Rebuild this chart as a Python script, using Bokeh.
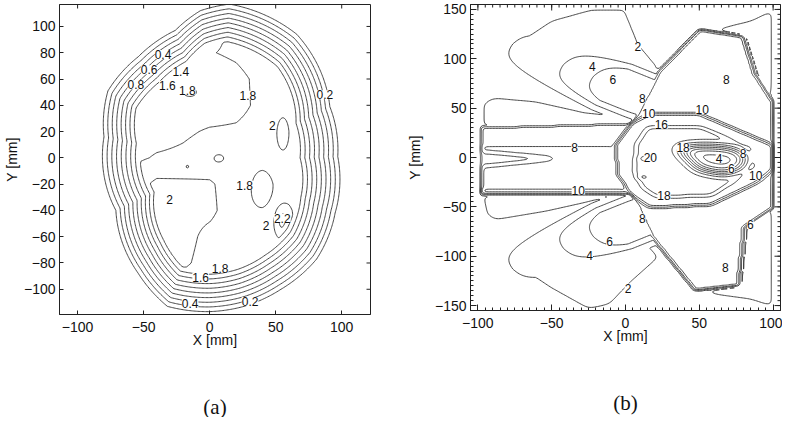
import numpy as np
from bokeh.plotting import figure
from bokeh.models import ColumnDataSource, LabelSet, LinearAxis, FixedTicker, Range1d
from bokeh.layouts import row
from bokeh.core.properties import value
from bokeh.embed import file_html
from bokeh.resources import INLINE

# ======================= Panel (a) data =======================
a_levels = [0.2, 0.4, 0.6, 0.8, 1.0, 1.2, 1.4, 1.6, 1.8, 2.0, 2.2]
# outermost (0.2) iso-line
a_outer_x = [15, 66, 91, 97, 95, 81, 54, 26, 0, -32, -54, -71, -80, -77, -54, -26, -7]
a_outer_y = [117, 94, 39, 1, -42, -77, -100, -113, -117, -113, -88, -40, 16, 51, 77, 97, 112]
a_core = [8.0, -2.0]          # reference point of the ring system
a_ring_gap = 25.0             # distance between the 0.2 and 1.6 lines (mm)
# plateau values inside the rings (20 mm grid)
a_grid_x = [-60, -40, -20, 0, 20, 40, 60, 80]
a_grid_y = [100, 80, 60, 40, 20, 0, -20, -40, -60, -80, -100]
a_grid_z = [
    [1.70, 1.70, 1.70, 1.72, 1.85, 1.90, 1.90, 1.90],
    [1.70, 1.70, 1.70, 1.79, 1.83, 1.90, 1.90, 1.90],
    [1.70, 1.70, 1.70, 1.70, 1.75, 1.85, 1.90, 1.90],
    [1.70, 1.70, 1.70, 1.70, 1.74, 1.85, 1.90, 1.90],
    [1.70, 1.72, 1.77, 1.82, 1.83, 1.88, 1.92, 1.90],
    [1.75, 1.82, 1.84, 1.90, 1.90, 1.90, 1.92, 1.90],
    [1.88, 2.05, 2.04, 2.02, 1.92, 1.90, 1.92, 1.90],
    [1.90, 2.05, 2.05, 2.04, 1.90, 1.92, 1.98, 1.90],
    [1.90, 2.02, 2.06, 1.95, 1.90, 1.92, 1.95, 1.90],
    [1.90, 1.95, 2.03, 1.93, 1.90, 1.90, 1.90, 1.90],
    [1.90, 1.90, 1.90, 1.90, 1.90, 1.90, 1.90, 1.90],
]
# local hot / cold spots
a_spot_x = [-15, 55, 40, 55, 7, -17]
a_spot_y = [50, 19, -25, -48, 0, -6]
a_spot_dz = [0.14, 0.15, -0.17, 0.32, 0.15, 0.10]
a_spot_sx = [6, 4.5, 9, 4, 4, 2.5]
a_spot_sy = [4, 13, 15, 8, 3, 2.5]
# inline labels
a_lab_x = [-35.3, -45.8, -55.9, -21.9, -32.0, -16.9, 29.0, 87.3, 47.4, 26.5, -30.3, 42.7, 55.0, 7.9, -6.8, -14.8, 30.6]
a_lab_y = [78.7, 67.0, 55.7, 66.0, 55.2, 51.4, 47.6, 48.1, 24.8, -20.7, -31.4, -51.1, -46.1, -84.0, -90.9, -110.6, -109.3]
a_lab_t = ["0.4", "0.6", "0.8", "1.4", "1.6", "1.8", "1.8", "0.2", "2", "1.8", "2", "2", "2.2", "1.8", "1.6", "0.4", "0.2"]

# ======================= Panel (b) data =======================
b_levels = [2, 4, 6, 8, 10, 12, 14, 16, 18, 20]
b_body_x = [-98, 101]
b_body_y = [-153, 151]
band_top_x = [-98, 4, -7, -98];            band_top_y = [31, 35, 12, 12];            band_top_d = 7.0
band_mid_x = [-98, -7, -5, 0.9, -98];      band_mid_y = [12, 12, -18, -31, -31];     band_mid_d = 8.7
band_bot_x = [-98, 0.9, 4, -98];           band_bot_y = [-31, -31, -38, -37];        band_bot_d = 10.8
finger_x = [-98, -45, -98];                finger_y = [6, -1, -9];                   finger_d = -3.5
hex_x = [-7, 4, 17, 49, 101, 101, 90, 58, 17, 4, -5]
hex_y = [12, 35, 45, 45, 12, -11, -25, -48, -51, -38, -18];                          hex_d = 15.0
core_x = [8, 15, 25, 50, 85, 88, 80, 58, 22, 12, 6]
core_y = [14, 30, 31, 31, 10, -9, -18, -38, -40, -30, -14];                          core_d = 4.3
hole_x = [35, 55, 72, 82, 80, 68, 50]
hole_y = [10, 12, 10, 3, -10, -17, -12];                                            hole_d = -16.0
tower_top_x = [4, 22, 50, 80, 88, 101, 101, 49, 17]
tower_top_y = [35, 87, 130, 123, 85, 55, 12, 45, 45];                               tower_top_d = 8.5
tower_bot_x = [4, 17, 47, 77, 81, 101, 101, 90, 58, 17]
tower_bot_y = [-38, -80, -135, -130, -71, -50, -11, -25, -48, -51];                 tower_bot_d = 8.5
peak_x = [13, 11];  peak_y = [-1, -20];  peak_d = [1.5, 1.3]
# exit lobes: start point, direction (deg), half width, dose law
lobe_x0 = [25, 25];  lobe_y0 = [54, -52];  lobe_dir = [149, 211];  lobe_hw = [24, 24]
lobe_a = [15.5, 15.5];  lobe_len = [58, 58];  lobe_max = [8, 8]
# low dose (2-4) envelopes
halo_d = 2.8
halo_ul_x = [-78, -50, -21, 0, 10, 24, 5, -40];      halo_ul_y = [112, 140, 152, 152, 115, 90, 70, 85]
halo_lt_x = [-98, -97, -90, -60, -28, 4, 4];          halo_lt_y = [31, 55, 62, 58, 47, 42, 31]
halo_ll_x = [-73, -49, -25, -10, 4, 24, 5, -40];     halo_ll_y = [-112, -135, -155, -150, -128, -101, -70, -85]
halo_lb_x = [-98, -95, -89, -50, -21, 4, 4];          halo_lb_y = [-37, -58, -65, -55, -45, -42, -37]
halo_tr_x = [50, 60, 85, 101, 101, 88, 80];           halo_tr_y = [130, 131, 140, 152, 40, 85, 123]
halo_br_x = [47, 60, 85, 101, 101, 81, 77];           halo_br_y = [-135, -140, -145, -153, -45, -71, -130]
# inline labels
b_lab_x = [8.4, -22.5, -8.5, 68.3, 11.4, 52.0, 15.7, 24.3, -34.5, 39.0, 16.8, 63.4, 79.6, 71.7, 88.2, -32.0, 26.1, 11.4, 84.6, -10.8, -24.3, 67.7, 1.7]
b_lab_y = [112, 92, 78.7, 78.7, 59.3, 48.7, 44.7, 33.7, 10.3, 9.7, -0.3, -1.3, 3.7, -10.7, -18, -33, -38, -61.3, -68, -84.7, -99.7, -111.3, -132.3]
b_lab_t = ["2", "4", "6", "8", "8", "10", "10", "16", "8", "18", "20", "4", "8", "6", "10", "10", "18", "8", "6", "6", "4", "8", "2"]


# ======================= helpers =======================
def gblur(a, s):
    r = int(3 * s) + 1
    k = np.exp(-0.5 * (np.arange(-r, r + 1) / s) ** 2)
    k /= k.sum()
    ap = np.pad(a, ((r, r), (0, 0)), mode="edge")
    a = np.apply_along_axis(lambda c: np.convolve(c, k, mode="valid"), 0, ap)
    ap = np.pad(a, ((0, 0), (r, r)), mode="edge")
    a = np.apply_along_axis(lambda c: np.convolve(c, k, mode="valid"), 1, ap)
    return a


def poly_mask(X, Y, px, py, s):
    res = np.zeros(X.shape, bool)
    n = len(px)
    j = n - 1
    for i in range(n):
        xi, yi, xj, yj = px[i], py[i], px[j], py[j]
        dy = (yj - yi) if yj != yi else 1e-9
        cond = ((yi > Y) != (yj > Y)) & (X < (xj - xi) * (Y - yi) / dy + xi)
        res ^= cond
        j = i
    return gblur(res.astype(float), s)


def bilinear(gx, gy, gz, xs, ys):
    gx = np.asarray(gx, float); gy = np.asarray(gy, float); gz = np.asarray(gz, float)
    if gy[0] > gy[-1]:
        gy = gy[::-1]; gz = gz[::-1]
    tmp = np.array([np.interp(xs, gx, r) for r in gz])
    return np.array([np.interp(ys, gy, tmp[:, j]) for j in range(tmp.shape[1])]).T


def sig(d, s):
    return 1.0 / (1.0 + np.exp(-d / s))


# ======================= field (a) =======================
ax_ = np.arange(-114.0, 122.5, 1.0)
ay_ = np.arange(-119.0, 117.5, 1.0)
AX, AY = np.meshgrid(ax_, ay_)
ox = np.array(a_outer_x, float) - a_core[0]
oy = np.array(a_outer_y, float) - a_core[1]
oth = np.arctan2(oy, ox); orr = np.hypot(ox, oy)
order = np.argsort(oth)
th = np.arctan2(AY - a_core[1], AX - a_core[0])
rr = np.hypot(AX - a_core[0], AY - a_core[1])
R0 = np.interp(th, oth[order], orr[order], period=2 * np.pi)
ramp = 0.2 + (R0 - rr) * (1.4 / a_ring_gap)
inner = bilinear(a_grid_x, a_grid_y, a_grid_z, ax_, ay_)
for sx0, sy0, dz, gsx, gsy in zip(a_spot_x, a_spot_y, a_spot_dz, a_spot_sx, a_spot_sy):
    inner = inner + dz * np.exp(-0.5 * (((AX - sx0) / gsx) ** 2 + ((AY - sy0) / gsy) ** 2))
FA = np.minimum(ramp, inner)

# ======================= field (b) =======================
bx_ = np.arange(-105.0, 105.5, 1.0)
by_ = np.arange(-155.0, 155.5, 1.0)
BX, BY = np.meshgrid(bx_, by_)
main = np.zeros_like(BX)
for px, py, d, s in [
    (band_top_x, band_top_y, band_top_d, 1.8),
    (band_mid_x, band_mid_y, band_mid_d, 1.8),
    (band_bot_x, band_bot_y, band_bot_d, 1.8),
    (finger_x, finger_y, finger_d, 2.5),
    (hex_x, hex_y, hex_d, 1.5),
    (core_x, core_y, core_d, 2.5),
    (hole_x, hole_y, hole_d, 5.0),
    (tower_top_x, tower_top_y, tower_top_d, 1.3),
    (tower_bot_x, tower_bot_y, tower_bot_d, 1.3),
]:
    main += d * poly_mask(BX, BY, px, py, s)
for qx, qy, qd in zip(peak_x, peak_y, peak_d):
    main += qd * np.exp(-0.5 * (((BX - qx) / 3.0) ** 2 + ((BY - qy) / 2.0) ** 2))
lobes = np.zeros_like(BX)
for x0, y0, dg, hw, A, lam, vmax in zip(lobe_x0, lobe_y0, lobe_dir, lobe_hw, lobe_a, lobe_len, lobe_max):
    ux, uy = np.cos(np.radians(dg)), np.sin(np.radians(dg))
    s_along = (BX - x0) * ux + (BY - y0) * uy
    t_perp = -(BX - x0) * uy + (BY - y0) * ux
    v = np.minimum(vmax, A * np.exp(-s_along / lam))
    lobes = np.maximum(lobes, v * sig(s_along, 3.0) * sig(hw - np.abs(t_perp), 5.0))
halo = np.zeros_like(BX)
for px, py in [(halo_ul_x, halo_ul_y), (halo_lt_x, halo_lt_y), (halo_ll_x, halo_ll_y),
               (halo_lb_x, halo_lb_y), (halo_tr_x, halo_tr_y), (halo_br_x, halo_br_y)]:
    halo = np.maximum(halo, halo_d * poly_mask(BX, BY, px, py, 3.0))
body = poly_mask(BX, BY, [b_body_x[0], b_body_x[1], b_body_x[1], b_body_x[0]],
                 [b_body_y[0], b_body_y[0], b_body_y[1], b_body_y[1]], 0.7)
FB = np.maximum(np.maximum(main, lobes), halo) * body


# ======================= figures =======================
LINE = "#333333"
AXC = "#222222"
FONT = "Liberation Sans"


def minus(v):
    return ("\u2212" + str(abs(v))) if v < 0 else str(v)


def setup_axes(p, xt, yt, xmin, ymin, tin, tmin, ylab_standoff, caption, xr, yr):
    p.xaxis.ticker = FixedTicker(ticks=xt, minor_ticks=xmin)
    p.yaxis.ticker = FixedTicker(ticks=yt, minor_ticks=ymin)
    p.xaxis.major_label_overrides = {v: minus(v) for v in xt}
    p.yaxis.major_label_overrides = {v: minus(v) for v in yt}
    p.xaxis.axis_label = "X [mm]"
    p.yaxis.axis_label = "Y [mm]"
    for ax in (p.xaxis[0], p.yaxis[0]):
        ax.major_tick_in = tin; ax.major_tick_out = 0
        ax.minor_tick_in = tmin; ax.minor_tick_out = 0
        ax.axis_line_color = AXC
        ax.major_tick_line_color = AXC
        ax.minor_tick_line_color = AXC if tmin > 0 else None
        ax.major_label_text_font = FONT
        ax.major_label_text_font_size = "14px"
        ax.major_label_text_color = "#111111"
        ax.axis_label_text_font = FONT
        ax.axis_label_text_font_size = "14px"
        ax.axis_label_text_font_style = "normal"
        ax.axis_label_text_color = "#111111"
    p.xaxis.major_label_standoff = 7
    p.yaxis.major_label_standoff = 4
    p.xaxis.axis_label_standoff = -3
    p.yaxis.axis_label_standoff = ylab_standoff
    # mirrored inward ticks on the top and right frame edges
    p.scatter(x=xt, y=[yr[1]] * len(xt), marker="dash", angle=np.pi / 2, size=2 * tin,
              line_color=AXC, line_width=1)
    p.scatter(x=[xr[1]] * len(yt), y=yt, marker="dash", angle=0, size=2 * tin,
              line_color=AXC, line_width=1)
    if tmin > 0:
        p.scatter(x=xmin, y=[yr[1]] * len(xmin), marker="dash", angle=np.pi / 2, size=2 * tmin,
                  line_color=AXC, line_width=1)
        p.scatter(x=[xr[1]] * len(ymin), y=ymin, marker="dash", angle=0, size=2 * tmin,
                  line_color=AXC, line_width=1)
    cap = LinearAxis(ticker=FixedTicker(ticks=[]), axis_label=caption,
                     axis_line_color=None, major_tick_line_color=None, minor_tick_line_color=None,
                     major_label_standoff=0, axis_label_standoff=44,
                     axis_label_text_font="Liberation Serif",
                     axis_label_text_font_size="21px", axis_label_text_font_style="normal",
                     axis_label_text_color="#111111")
    p.add_layout(cap, "below")
    p.outline_line_color = AXC
    p.xgrid.visible = False
    p.ygrid.visible = False


AXR = (-113.7, 121.8); AYR = (-119.2, 116.7)
pa = figure(frame_width=311, frame_height=310, output_backend="svg", toolbar_location=None,
            title=None, x_range=Range1d(*AXR), y_range=Range1d(*AYR),
            min_border_left=54, min_border_right=10, min_border_top=0, min_border_bottom=104)
pa.contour(ax_, ay_, FA, a_levels, line_color=LINE, line_width=0.9)
setup_axes(pa, [-100, -50, 0, 50, 100], [-100, -80, -60, -40, -20, 0, 20, 40, 60, 80, 100],
           [], [], 4, 0, 1, "(a)", AXR, AYR)
src_a = ColumnDataSource(dict(x=a_lab_x, y=a_lab_y, t=a_lab_t))
pa.add_layout(LabelSet(x="x", y="y", text="t", source=src_a, text_font=value(FONT),
                       text_font_size=value("12px"), text_color=value("#111111"),
                       text_align="center", text_baseline="middle",
                       background_fill_color=value("#ffffff")))

BXR = (-105, 105); BYR = (-155, 155)
pb = figure(frame_width=310, frame_height=306, output_backend="svg", toolbar_location=None,
            title=None, x_range=Range1d(*BXR), y_range=Range1d(*BYR),
            min_border_left=90, min_border_right=2, min_border_top=4, min_border_bottom=104)
pb.contour(bx_, by_, FB, b_levels, line_color=LINE, line_width=0.9)
setup_axes(pb, [-100, -50, 0, 50, 100], [-150, -100, -50, 0, 50, 100, 150],
           list(range(-105, 106, 5)), list(range(-155, 156, 5)), 6, 3, 9, "(b)", BXR, BYR)
src_b = ColumnDataSource(dict(x=b_lab_x, y=b_lab_y, t=b_lab_t))
pb.add_layout(LabelSet(x="x", y="y", text="t", source=src_b, text_font=value(FONT),
                       text_font_size=value("12px"), text_color=value("#111111"),
                       text_align="center", text_baseline="middle",
                       background_fill_color=value("#ffffff")))

layout = row(pa, pb)
open("out.html", "w").write(file_html(layout, INLINE))
